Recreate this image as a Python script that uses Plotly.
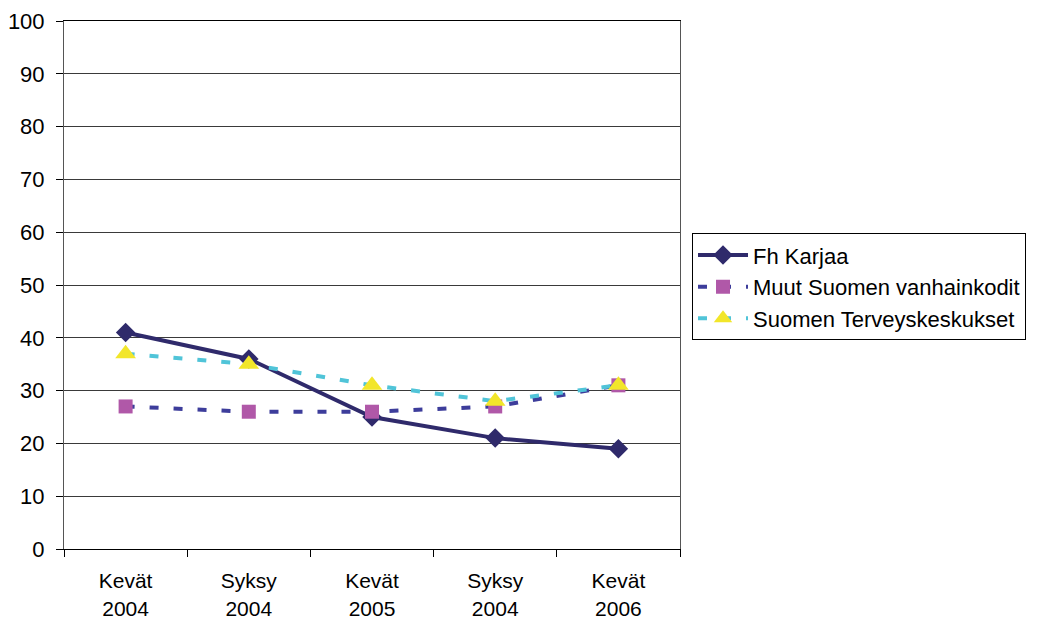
import plotly.graph_objects as go

categories = ["Kevät<br>2004", "Syksy<br>2004", "Kevät<br>2005", "Syksy<br>2004", "Kevät<br>2006"]
fh_karjaa = [41, 36, 25, 21, 19]
muut_vanhainkodit = [27, 26, 26, 27, 31]
terveyskeskukset = [37, 35, 31, 28, 31]
y_ticks = list(range(0, 101, 10))

x = list(range(len(categories)))

fig = go.Figure()
fig.add_trace(go.Scatter(
    x=x, y=fh_karjaa, name="Fh Karjaa", mode="lines+markers",
    line=dict(color="#2F2A6B", width=4),
    marker=dict(symbol="diamond", size=15, color="#2F2A6B"),
))
fig.add_trace(go.Scatter(
    x=x, y=muut_vanhainkodit, name="Muut Suomen vanhainkodit", mode="lines+markers",
    line=dict(color="#3D3D9B", width=4, dash="9px,15px"),
    marker=dict(symbol="square", size=14, color="#B058A8"),
))
fig.add_trace(go.Scatter(
    x=x, y=terveyskeskukset, name="Suomen Terveyskeskukset", mode="lines+markers",
    line=dict(color="#50C4D8", width=4, dash="9px,15px"),
    marker=dict(symbol="triangle-up", size=18, color="#F2E62A"),
))

fig.update_layout(
    width=1042, height=622,
    margin=dict(l=64, r=362, t=21, b=73, autoexpand=False),
    paper_bgcolor="white", plot_bgcolor="white",
    font=dict(family="Liberation Sans, Arial, sans-serif", size=22, color="black"),
    showlegend=True,
    legend=dict(
        x=1.0195, y=0.598, xanchor="left", yanchor="top",
        bordercolor="black", borderwidth=1,
        font=dict(size=22), itemwidth=50,
    ),
)
fig.update_xaxes(
    range=[-0.5, 4.5], automargin=False,
    tickmode="array", tickvals=x, ticktext=categories,
    ticks="", showgrid=False,
    minor=dict(tickmode="array", tickvals=[i - 0.5 for i in range(len(categories) + 1)],
               ticks="outside", ticklen=7, tickcolor="black", showgrid=False),
    showline=True, linecolor="black", linewidth=1, mirror=True,
    ticklabelstandoff=13,
    tickfont=dict(size=21),
    zeroline=False,
)
fig.update_yaxes(
    range=[0, 100], automargin=False,
    tickmode="array", tickvals=y_ticks,
    ticks="outside", ticklen=7, tickcolor="black",
    showgrid=True, gridcolor="#3a3a3a", gridwidth=1,
    showline=True, linecolor="#555555", linewidth=1, mirror=True,
    ticklabelstandoff=7,
    tickfont=dict(size=22),
    zeroline=False,
)

fig.write_html("out.html", config={"displayModeBar": False},
               post_script="document.body.style.margin='0';")
